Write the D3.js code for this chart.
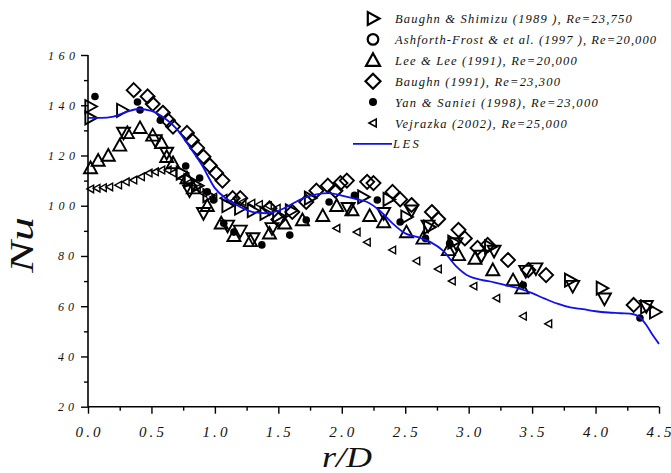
<!DOCTYPE html>
<html>
<head>
<meta charset="utf-8">
<script src="https://cdn.jsdelivr.net/npm/d3@7/dist/d3.min.js"></script>
<style>
  html, body { margin: 0; padding: 0; background: #fff; }
  svg { display: block; }
</style>
</head>
<body>
<svg id="chart" width="671" height="473"></svg>
<script>
// ---------------- DATA ----------------
const xTicks = [0.0, 0.5, 1.0, 1.5, 2.0, 2.5, 3.0, 3.5, 4.0, 4.5];
const yTicks = [20, 40, 60, 80, 100, 120, 140, 160];

const lesX = [0, 0.1, 0.2, 0.3, 0.4, 0.5, 0.6, 0.7, 0.8, 0.9, 1.0, 1.1, 1.2, 1.3, 1.4, 1.5, 1.6, 1.7, 1.8, 1.9, 2.0, 2.1, 2.2, 2.3, 2.4, 2.5, 2.6, 2.7, 2.8, 2.9, 3.0, 3.1, 3.2, 3.3, 3.4, 3.5, 3.6, 3.7, 3.8, 3.9, 4.0, 4.1, 4.2, 4.3, 4.35, 4.4, 4.45, 4.5];
const lesY = [135, 135, 135.5, 137.3, 138.5, 137.8, 135, 130.5, 123.5, 116, 107, 102.5, 99.5, 97.5, 97, 98, 100.5, 103, 104.5, 105, 104, 102.8, 101.5, 98, 93, 89, 87.5, 85.5, 82, 76, 72, 70.5, 69.5, 68.2, 67, 65.2, 63, 61, 59.5, 58.8, 58, 57.5, 57.2, 56.8, 55.5, 52.5, 48.5, 45];

// Baughn & Shimizu (1989)
const baughnShimizuX = [0.02, 0.02, 0.27, 0.74, 0.8, 0.86, 0.95, 1.1, 1.2, 1.3, 1.4, 1.5, 1.6, 1.75, 2.17, 2.37, 2.51, 2.69, 2.88, 3.17, 3.8, 4.05, 4.4, 4.47];
const baughnShimizuY = [139.5, 135, 138, 113, 110, 108, 104, 100, 99, 98, 97, 96, 98, 103, 103.5, 102.5, 95.5, 91.5, 85.5, 83.6, 70.4, 67.2, 59.7, 57.7];

// Ashforth-Frost & et al. (1997)
const ashforthX = [0.28, 0.53, 0.62, 0.8, 0.91, 1.1, 1.2, 1.3, 1.45, 2.05, 2.33, 2.55, 2.68, 2.9, 3.1, 3.2, 3.45, 3.53, 3.82, 4.07, 4.4];
const ashforthY = [129, 126, 121, 106, 97, 92, 90, 87, 91, 99, 97, 98, 92, 85, 80, 82, 74, 75, 68, 63, 60];

// Lee & Lee (1991)
const leeX = [0.02, 0.08, 0.16, 0.25, 0.31, 0.41, 0.51, 0.58, 0.62, 0.67, 0.78, 0.83, 0.94, 1.05, 1.15, 1.28, 1.43, 1.55, 1.69, 1.85, 1.96, 2.08, 2.22, 2.33, 2.51, 2.64, 2.84, 2.92, 3.05, 3.19, 3.35, 3.42];
const leeY = [115, 118, 120, 124, 129, 131, 128, 125, 119.5, 117, 111, 107, 100, 93, 88, 86, 89, 93, 94.3, 96, 100, 98.3, 96, 93.5, 89.5, 87, 82.4, 80.4, 79, 74.4, 70.4, 67.2];

// Baughn (1991)
const baughnX = [0.36, 0.47, 0.51, 0.59, 0.63, 0.67, 0.78, 0.82, 0.86, 0.91, 0.96, 1.01, 1.06, 1.14, 1.2, 1.43, 1.5, 1.61, 1.72, 1.8, 1.89, 1.95, 1.99, 2.04, 2.2, 2.25, 2.4, 2.46, 2.55, 2.71, 2.76, 2.92, 2.97, 3.07, 3.15, 3.31, 3.47, 3.61, 4.3];
const baughnY = [146, 143.5, 140.5, 137, 134, 131.5, 129, 126, 123, 119.5, 116, 113, 110, 103, 103, 99, 94.5, 97.5, 101.5, 106, 108, 106, 109, 110, 109.5, 109, 105.5, 102.5, 100.3, 97.5, 94.7, 90.4, 87, 83.2, 84.4, 78.4, 74.4, 72.4, 60.5];

// Yan & Saniei (1998)
const yanX = [0.055, 0.39, 0.41, 0.57, 0.77, 0.88, 0.94, 0.99, 1.07, 1.15, 1.37, 1.59, 1.72, 1.9, 2.1, 2.28, 2.46, 2.66, 2.85, 3.43, 4.35];
const yanY = [143.5, 141.3, 138.1, 134, 115.8, 111, 105.5, 102.3, 93, 89.5, 84.4, 88.3, 94.3, 101.5, 104.2, 102.3, 93.5, 87, 85, 68.4, 55.3];

// Vejrazka (2002)
const vejrazkaX = [0.02, 0.07, 0.12, 0.17, 0.24, 0.3, 0.36, 0.42, 0.48, 0.53, 0.58, 0.63, 0.67, 0.74, 0.79, 0.86, 0.91, 0.99, 1.07, 1.15, 1.22, 1.29, 1.35, 1.42, 1.49, 1.96, 2.12, 2.2, 2.4, 2.59, 2.76, 2.87, 3.04, 3.22, 3.43, 3.63];
const vejrazkaY = [106.7, 107, 107.2, 107.5, 108.2, 109.5, 110.2, 111.5, 113, 113.5, 114.2, 114.2, 113, 111, 109, 107, 105, 103.5, 103, 102, 101.5, 101, 100.5, 100, 99, 91, 89.5, 85.5, 82.4, 78, 74.8, 70, 68, 63.2, 56, 53];

const legendLabels = [
  "Baughn & Shimizu (1989 ), Re=23,750",
  "Ashforth-Frost & et al. (1997 ), Re=20,000",
  "Lee & Lee (1991), Re=20,000",
  "Baughn (1991), Re=23,300",
  "Yan & Saniei (1998),  Re=23,000",
  "Vejrazka (2002), Re=25,000",
  "LES"
];

// ---------------- DRAW ----------------
const FONT = "'Liberation Serif', 'Times New Roman', Tinos, 'DejaVu Serif', serif";
const svg = d3.select("#chart");
const x = d3.scaleLinear().domain([0, 4.5]).range([88, 659]);
const y = d3.scaleLinear().domain([20, 160]).range([406.7, 55]);

function tri(dir, s) {
  if (dir === "up") return `M0,${-s}L${s},${s*0.8}L${-s},${s*0.8}Z`;
  if (dir === "down") return `M0,${s}L${s},${-s*0.8}L${-s},${-s*0.8}Z`;
  if (dir === "right") return `M${s},0L${-s*0.8},${s}L${-s*0.8},${-s}Z`;
  return `M${-s},0L${s*0.8},${s}L${s*0.8},${-s}Z`;
}
function diamond(s) { return `M0,${-s}L${s},0L0,${s}L${-s},0Z`; }

const plot = svg.append("g");

function drawSeries(xs, ys, kind) {
  const g = plot.append("g");
  xs.forEach((xv, i) => {
    const cx = x(xv), cy = y(ys[i]);
    if (kind === "dot") {
      g.append("circle").attr("cx", cx).attr("cy", cy).attr("r", 3.8).attr("fill", "#000");
    } else if (kind === "circle") {
      g.append("circle").attr("cx", cx).attr("cy", cy).attr("r", 5).attr("fill", "#fff").attr("stroke", "#000").attr("stroke-width", 1.8);
    } else {
      let d;
      if (kind === "diamond") d = diamond(7);
      else if (kind === "up") d = tri("up", 6.5);
      else if (kind === "right") d = tri("right", 6.5);
      else if (kind === "down") d = tri("down", 6.5);
      else d = tri("left", 3.8);
      g.append("path").attr("transform", `translate(${cx},${cy})`).attr("d", d)
        .attr("fill", kind === "left" ? "#fff" : "none")
        .attr("stroke", "#000").attr("stroke-width", kind === "left" ? 1.4 : 1.9)
        .attr("stroke-linejoin", "miter");
    }
  });
}

drawSeries(vejrazkaX, vejrazkaY, "left");
drawSeries(leeX, leeY, "up");
drawSeries(ashforthX, ashforthY, "down");
drawSeries(baughnShimizuX, baughnShimizuY, "right");
drawSeries(baughnX, baughnY, "diamond");
drawSeries(yanX, yanY, "dot");

const lesData = lesX.map((v, i) => [v, lesY[i]]);
plot.append("path").datum(lesData)
  .attr("fill", "none").attr("stroke", "#1010ee").attr("stroke-width", 1.8)
  .attr("d", d3.line().x(d => x(d[0])).y(d => y(d[1])).curve(d3.curveMonotoneX));

// Axes
const xAxis = d3.axisBottom(x).tickValues(d3.range(0, 4.51, 0.25)).tickSize(0).tickFormat("");
const gx = svg.append("g").attr("transform", `translate(0,${y(20)})`).call(xAxis);
gx.select(".domain").attr("stroke", "#000").attr("stroke-width", 1.6).attr("d", `M${x(0)},0H${x(4.5)}`);
gx.selectAll(".tick line").attr("stroke", "#000").attr("stroke-width", 1.4)
  .attr("y2", (d) => (Math.abs(d * 2 - Math.round(d * 2)) < 1e-6 ? 7 : 4));

const yAxis = d3.axisLeft(y).tickValues(d3.range(20, 160.1, 10)).tickSize(0).tickFormat("");
const gy = svg.append("g").attr("transform", `translate(${x(0)},0)`).call(yAxis);
gy.select(".domain").attr("stroke", "#000").attr("stroke-width", 1.6).attr("d", `M0,${y(20)}V${y(160)}`);
gy.selectAll(".tick line").attr("stroke", "#000").attr("stroke-width", 1.4)
  .attr("x2", (d) => (d % 20 === 0 ? -7 : -4));

function styleText(sel) {
  return sel.attr("font-family", FONT).attr("font-style", "italic").attr("fill", "#111");
}

// Tick labels
svg.append("g").selectAll("text").data(xTicks).join("text")
  .call(styleText)
  .attr("x", d => x(d) - 12.5).attr("y", 437)
  .attr("textLength", 25).attr("lengthAdjust", "spacing")
  .attr("font-size", 15)
  .text(d => d.toFixed(1));

svg.append("g").selectAll("text").data(yTicks).join("text")
  .call(styleText)
  .attr("x", d => (d >= 100 ? 48 : 58)).attr("y", d => y(d) + 4.5)
  .attr("textLength", d => (d >= 100 ? 27 : 16)).attr("lengthAdjust", "spacing")
  .attr("font-size", 12)
  .text(d => String(d));

// Axis titles
svg.append("text").call(styleText).attr("transform", "translate(33,273) rotate(-90)")
  .attr("font-size", 34).attr("textLength", 56).attr("lengthAdjust", "spacingAndGlyphs")
  .text("Nu");
svg.append("text").call(styleText).attr("x", 322).attr("y", 467)
  .attr("font-size", 29).attr("textLength", 50).attr("lengthAdjust", "spacingAndGlyphs")
  .text("r/D");

// Legend
const legWidths = [236.7, 261, 181.7, 165, 202.7, 171.7, 25.7];
const legKinds = ["right", "circle", "up", "diamond", "dot", "left", "line"];
const leg = svg.append("g");
legendLabels.forEach((lab, i) => {
  const cy = 18.5 + i * 20.9;
  const k = legKinds[i];
  const sx = 373;
  if (k === "line") {
    leg.append("line").attr("x1", 353).attr("x2", 392).attr("y1", cy).attr("y2", cy)
      .attr("stroke", "#1010ee").attr("stroke-width", 1.8);
  } else if (k === "dot") {
    leg.append("circle").attr("cx", sx).attr("cy", cy).attr("r", 4).attr("fill", "#000");
  } else if (k === "circle") {
    leg.append("circle").attr("cx", sx).attr("cy", cy).attr("r", 5.3).attr("fill", "none").attr("stroke", "#000").attr("stroke-width", 2.2);
  } else {
    let d;
    if (k === "diamond") d = diamond(7.5);
    else if (k === "up") d = tri("up", 7);
    else if (k === "right") d = tri("right", 6.5);
    else d = tri("left", 4);
    leg.append("path").attr("transform", `translate(${sx},${cy})`).attr("d", d)
      .attr("fill", "none").attr("stroke", "#000").attr("stroke-width", k === "left" ? 1.6 : 2.2);
  }
  leg.append("text").call(styleText).attr("x", k === "line" ? 393 : 395).attr("y", cy + 4.5)
    .attr("font-size", 12.5).attr("textLength", legWidths[i]).attr("lengthAdjust", "spacing")
    .text(lab);
});
</script>
</body>
</html>
